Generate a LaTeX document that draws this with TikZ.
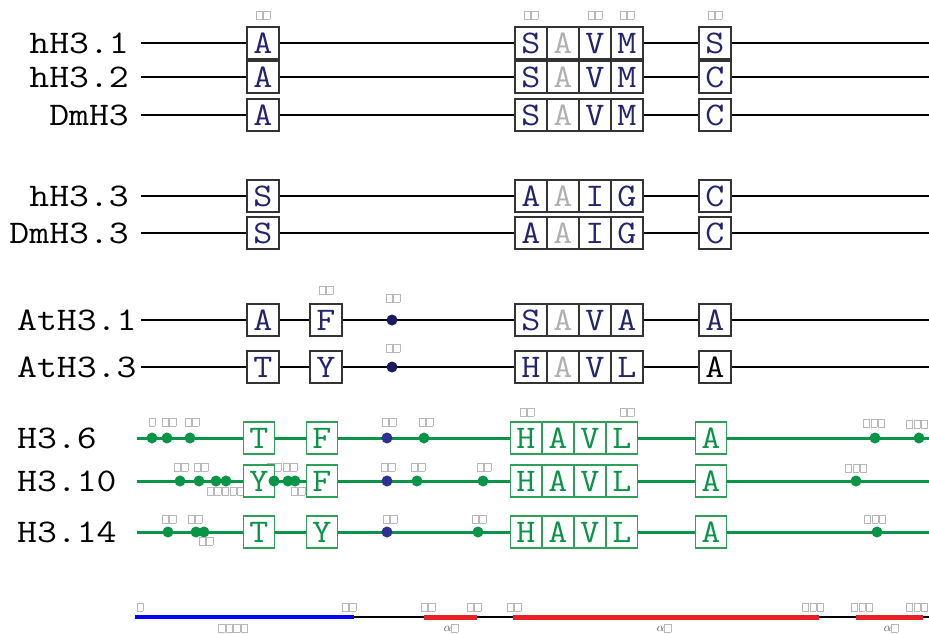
\documentclass[tikz,border=0pt]{standalone}
\usepackage{fontspec}
\newcommand\monof{\ttfamily}
\newcommand\widelab[1]{\scalebox{1.17}[1]{#1}}
\newcommand\wideres[1]{\scalebox{1.12}[1]{#1}}
\definecolor{navy}{HTML}{23236E}
\definecolor{ltgray}{HTML}{B0B0B0}
\definecolor{grn}{HTML}{0A9447}
\definecolor{gbox}{HTML}{2EA05A}
\definecolor{dotblue}{HTML}{2E3192}
\definecolor{dotnavy}{HTML}{1B1B5E}
\definecolor{rulblue}{HTML}{0000FF}
\definecolor{rulred}{HTML}{E8202A}
\definecolor{tofu}{HTML}{B8B8B8}
\definecolor{boxc}{HTML}{333333}
\newcommand\tfb{{\color{tofu}\fboxsep=0pt\fboxrule=0.7pt\fbox{\rule{0pt}{7pt}\hspace{5.5pt}}}}
\newcommand\tfA{\tfb}
\newcommand\tfB{\tfb\hspace{0.6pt}\tfb}
\newcommand\tfC{\tfb\hspace{0.6pt}\tfb\hspace{0.6pt}\tfb}
\newcommand\tfD{\tfb\hspace{0.6pt}\tfb\hspace{0.6pt}\tfb\hspace{0.6pt}\tfb}
\tikzset{
  res/.style={draw=boxc, line width=1.2pt, fill=white, minimum width=32pt, minimum height=32pt, inner sep=0pt, font=\monof\fontsize{33}{33}\selectfont, text height=20pt, text depth=0pt, text=navy},
  gres/.style={res, draw=gbox, text=grn, minimum width=31.7pt},
  gry/.style={text=ltgray},
  blk/.style={text=black},
  lab/.style={font=\monof\fontsize{33}{33}\selectfont, inner sep=0pt},
  num/.style={inner sep=0pt, font=\fontsize{8}{8}\selectfont},
  anum/.style={inner sep=0pt, font=\fontsize{13}{13}\selectfont, text=black!75},
  bline/.style={line width=2.5pt, black},
  gline/.style={line width=3pt, grn},
  gdot/.style={circle, fill=grn, inner sep=0pt, minimum size=11pt},
  bdot/.style={circle, fill=dotblue, inner sep=0pt, minimum size=11pt},
  ndot/.style={circle, fill=dotnavy, inner sep=0pt, minimum size=11pt},
}
\begin{document}
\begin{tikzpicture}[x=1pt,y=-1pt]
\useasboundingbox (0,0) rectangle (929,633);
% ---------- row lines
\foreach \n/\y in {r1/43,r2/77,r3/115,r4/196,r5/233,r6/320,r7/367}{
  \coordinate (\n s) at (141,\y); \coordinate (\n e) at (929,\y);
  \draw[bline] (\n s) -- (\n e);
}
\foreach \n/\y in {g1/438,g2/481,g3/532}{
  \coordinate (\n s) at (137,\y); \coordinate (\n e) at (929,\y);
  \draw[gline] (\n s) -- (\n e);
}
% ---------- labels
\node[lab, anchor=base east] (l1) at (129,53) {\widelab{hH3.1}};
\node[lab, anchor=base east] (l2) at (129,87) {\widelab{hH3.2}};
\node[lab, anchor=base east] (l3) at (129,125) {\widelab{DmH3}};
\node[lab, anchor=base east] (l4) at (129,206) {\widelab{hH3.3}};
\node[lab, anchor=base east] (l5) at (129,243) {\widelab{DmH3.3}};
\node[lab, anchor=base west] (l6) at (17,330) {\widelab{AtH3.1}};
\node[lab, anchor=base west] (l7) at (17,377) {\widelab{AtH3.3}};
\node[lab, anchor=base west] (l8) at (17,448) {\widelab{H3.6}};
\node[lab, anchor=base west] (l9) at (17,491) {\widelab{H3.10}};
\node[lab, anchor=base west] (l10) at (17,542) {\widelab{H3.14}};
% ---------- top numbers
\node[num] (t31) at (263,15) {\tfB};
\node[num] (t87) at (531,15) {\tfB};
\node[num] (t89) at (595,15) {\tfB};
\node[num] (t90) at (627,15) {\tfB};
\node[num] (t96) at (715,15) {\tfB};
% ---------- rows 1-3
\node[res] (r1a) at (263,43) {\wideres{A}};
\node[res] (r1b) at (531,43) {\wideres{S}};
\node[res,gry] (r1c) at (563,43) {\wideres{A}};
\node[res] (r1d) at (595,43) {\wideres{V}};
\node[res] (r1e2) at (627,43) {\wideres{M}};
\node[res] (r1f) at (715,43) {\wideres{S}};
\node[res] (r2a) at (263,77) {\wideres{A}};
\node[res] (r2b) at (531,77) {\wideres{S}};
\node[res,gry] (r2c) at (563,77) {\wideres{A}};
\node[res] (r2d) at (595,77) {\wideres{V}};
\node[res] (r2e2) at (627,77) {\wideres{M}};
\node[res] (r2f) at (715,77) {\wideres{C}};
\node[res] (r3a) at (263,115) {\wideres{A}};
\node[res] (r3b) at (531,115) {\wideres{S}};
\node[res,gry] (r3c) at (563,115) {\wideres{A}};
\node[res] (r3d) at (595,115) {\wideres{V}};
\node[res] (r3e2) at (627,115) {\wideres{M}};
\node[res] (r3f) at (715,115) {\wideres{C}};
% ---------- rows 4-5
\node[res] (r4a) at (263,196) {\wideres{S}};
\node[res] (r4b) at (531,196) {\wideres{A}};
\node[res,gry] (r4c) at (563,196) {\wideres{A}};
\node[res] (r4d) at (595,196) {\wideres{I}};
\node[res] (r4e2) at (627,196) {\wideres{G}};
\node[res] (r4f) at (715,196) {\wideres{C}};
\node[res] (r5a) at (263,233) {\wideres{S}};
\node[res] (r5b) at (531,233) {\wideres{A}};
\node[res,gry] (r5c) at (563,233) {\wideres{A}};
\node[res] (r5d) at (595,233) {\wideres{I}};
\node[res] (r5e2) at (627,233) {\wideres{G}};
\node[res] (r5f) at (715,233) {\wideres{C}};
% ---------- rows 6-7
\node[num] (t41) at (326,290) {\tfB};
\node[num] (t6d) at (393,298) {\tfB};
\node[num] (t7d) at (393,348) {\tfB};
\node[res] (r6a) at (263,320) {\wideres{A}};
\node[res] (r6g) at (326,320) {\wideres{F}};
\node[ndot] (r6h) at (392,320) {};
\node[res] (r6b) at (531,320) {\wideres{S}};
\node[res,gry] (r6c) at (563,320) {\wideres{A}};
\node[res] (r6d) at (595,320) {\wideres{V}};
\node[res] (r6e2) at (627,320) {\wideres{A}};
\node[res] (r6f) at (715,320) {\wideres{A}};
\node[res] (r7a) at (263,367) {\wideres{T}};
\node[res] (r7g) at (326,367) {\wideres{Y}};
\node[ndot] (r7h) at (392,367) {};
\node[res] (r7b) at (531,367) {\wideres{H}};
\node[res,gry] (r7c) at (563,367) {\wideres{A}};
\node[res] (r7d) at (595,367) {\wideres{V}};
\node[res] (r7e2) at (627,367) {\wideres{L}};
\node[res,blk] (r7f) at (715,367) {\wideres{A}};
% ---------- green row 1 (H3.6)
\foreach \x/\k in {152/a,167/b,190/c,424/d,875/e,919/f}{\node[gdot] (g1\k) at (\x,438) {};}
\node[bdot] (g1z) at (387,438) {};
\node[num] (n1a) at (152,422) {\tfA};
\node[num] (n1b) at (169,422) {\tfB};
\node[num] (n1c) at (192,422) {\tfB};
\node[num] (n1z) at (389,422) {\tfB};
\node[num] (n1d) at (426,422) {\tfB};
\node[num] (n1e) at (874,423) {\tfC};
\node[num] (n1f) at (917,424) {\tfC};
\node[num] (n1h) at (527,412) {\tfB};
\node[num] (n1l) at (627,412) {\tfB};
\node[gres] (g1T) at (259,438) {\wideres{T}};
\node[gres] (g1F) at (322,438) {\wideres{F}};
\node[gres] (g1H) at (526,438) {\wideres{H}};
\node[gres] (g1A) at (558,438) {\wideres{A}};
\node[gres] (g1V) at (590,438) {\wideres{V}};
\node[gres] (g1L) at (622,438) {\wideres{L}};
\node[gres] (g1A2) at (711,438) {\wideres{A}};
% ---------- green row 2 (H3.10)
\foreach \x/\k in {180/a,199/b,216/c,226/d,274/e,288/f,295/g,417/h,483/i,856/j}{\node[gdot] (g2\k) at (\x,481) {};}
\node[bdot] (g2z) at (387,481) {};
\node[num] (n2a) at (181,467) {\tfB};
\node[num] (n2b) at (201,467) {\tfB};
\node[num] (n2c) at (214,491) {\tfB};
\node[num] (n2d) at (233,491) {\tfC};
\node[num] (n2e) at (274,467) {\tfB};
\node[num] (n2f) at (290,467) {\tfB};
\node[num] (n2g) at (298,491) {\tfB};
\node[num] (n2z) at (388,467) {\tfB};
\node[num] (n2h) at (418,467) {\tfB};
\node[num] (n2i) at (484,467) {\tfB};
\node[num] (n2j) at (856,468) {\tfC};
\node[gres] (g2Y) at (259,481) {\wideres{Y}};
\node[gres] (g2F) at (322,481) {\wideres{F}};
\node[gres] (g2H) at (526,481) {\wideres{H}};
\node[gres] (g2A) at (558,481) {\wideres{A}};
\node[gres] (g2V) at (590,481) {\wideres{V}};
\node[gres] (g2L) at (622,481) {\wideres{L}};
\node[gres] (g2A2) at (711,481) {\wideres{A}};
% dot that sits over the Y box edge
\node[gdot] (g2e2) at (274,481) {};
% ---------- green row 3 (H3.14)
\foreach \x/\k in {168/a,196/b,204/c,478/d,877/e}{\node[gdot] (g3\k) at (\x,532) {};}
\node[bdot] (g3z) at (387,532) {};
\node[num] (n3a) at (169,519) {\tfB};
\node[num] (n3b) at (195,519) {\tfB};
\node[num] (n3c) at (206,541) {\tfB};
\node[num] (n3z) at (390,519) {\tfB};
\node[num] (n3d) at (479,519) {\tfB};
\node[num] (n3e) at (875,519) {\tfC};
\node[gres] (g3T) at (259,532) {\wideres{T}};
\node[gres] (g3Y) at (322,532) {\wideres{Y}};
\node[gres] (g3H) at (526,532) {\wideres{H}};
\node[gres] (g3A) at (558,532) {\wideres{A}};
\node[gres] (g3V) at (590,532) {\wideres{V}};
\node[gres] (g3L) at (622,532) {\wideres{L}};
\node[gres] (g3A2) at (711,532) {\wideres{A}};
% ---------- ruler
\coordinate (u0) at (135,617);
\coordinate (u1) at (354,617);
\coordinate (u2) at (424,617);
\coordinate (u3) at (477,617);
\coordinate (u4) at (513,617);
\coordinate (u5) at (819,617);
\coordinate (u6) at (856,617);
\coordinate (u7) at (923,617);
\coordinate (u8) at (929,617);
\draw[line width=2pt, black] (u1) -- (u8);
\draw[line width=4.5pt, rulblue] (u0) -- (u1);
\draw[line width=5pt, rulred] (u2) -- (u3);
\draw[line width=5pt, rulred] (u4) -- (u5);
\draw[line width=5pt, rulred] (u6) -- (u7);
\node[num] (p1) at (140,607) {\tfA};
\node[num] (p2) at (349,607) {\tfB};
\node[num] (p3) at (428,607) {\tfB};
\node[num] (p4) at (474,607) {\tfB};
\node[num] (p5) at (514,607) {\tfB};
\node[num] (p6) at (813,607) {\tfC};
\node[num] (p7) at (862,607) {\tfC};
\node[num] (p8) at (917,607) {\tfC};
\node[num] (q1) at (233,628) {\tfD};
\node[anum] (q2) at (451,628) {$\alpha$\tfA};
\node[anum] (q3) at (664,628) {$\alpha$\tfA};
\node[anum] (q4) at (891,628) {$\alpha$\tfA};
\end{tikzpicture}
\end{document}
